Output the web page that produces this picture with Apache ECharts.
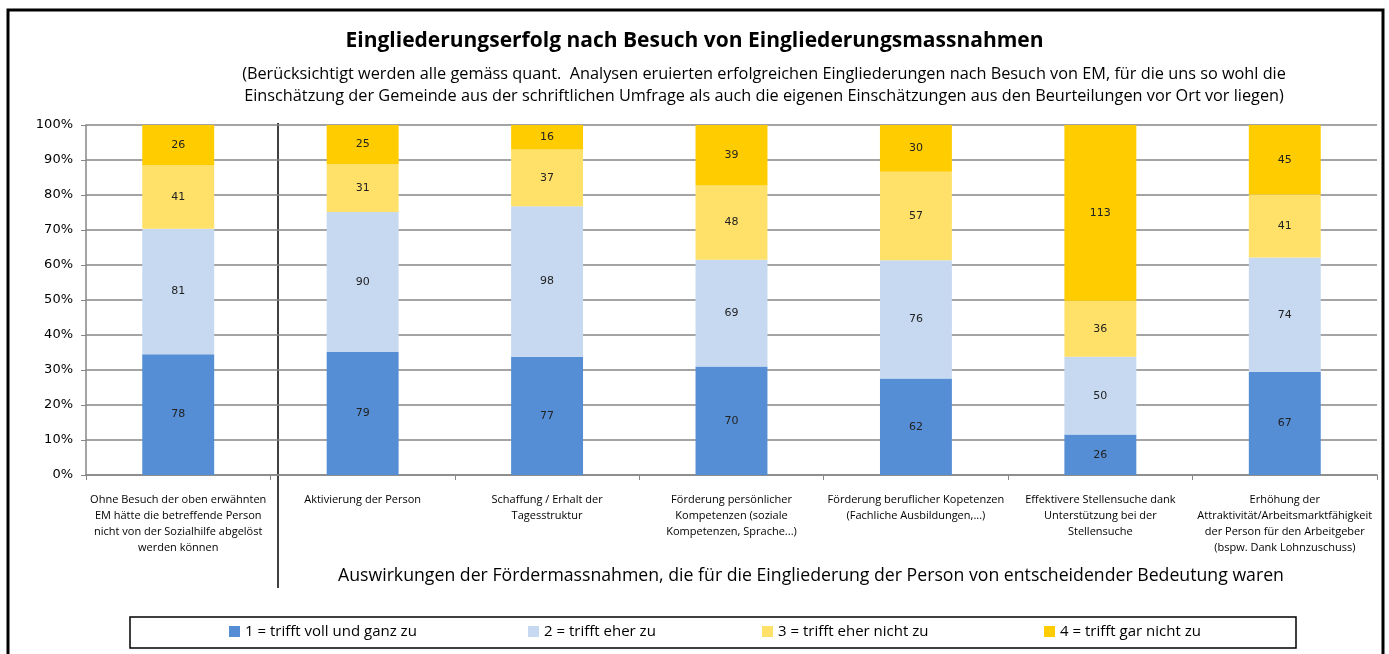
<!DOCTYPE html>
<html>
<head>
<meta charset="utf-8">
<script src="https://cdn.jsdelivr.net/npm/echarts@6/dist/echarts.min.js"></script>
<style>
  html, body { margin: 0; padding: 0; background: #fff; }
  #chart { width: 1389px; height: 654px; }
</style>
</head>
<body>
<div id="chart"></div>
<script>
const categories = [
  'Ohne Besuch der oben erwähnten\nEM hätte die betreffende Person\nnicht von der Sozialhilfe abgelöst\nwerden können',
  'Aktivierung der Person',
  'Schaffung / Erhalt der\nTagesstruktur',
  'Förderung persönlicher\nKompetenzen (soziale\nKompetenzen, Sprache...)',
  'Förderung beruflicher Kopetenzen\n(Fachliche Ausbildungen,...)',
  'Effektivere Stellensuche dank\nUnterstützung bei der\nStellensuche',
  'Erhöhung der\nAttraktivität/Arbeitsmarktfähigkeit\nder Person für den Arbeitgeber\n(bspw. Dank Lohnzuschuss)'
];
const seriesNames = [
  '1 = trifft voll und ganz zu',
  '2 = trifft eher zu',
  '3 = trifft eher nicht zu',
  '4 = trifft gar nicht zu'
];
const voll = [78, 79, 77, 70, 62, 26, 67];
const eher = [81, 90, 98, 69, 76, 50, 74];
const eherNicht = [41, 31, 37, 48, 57, 36, 41];
const garNicht = [26, 25, 16, 39, 30, 113, 45];
const colors = ['#558ED5', '#C6D9F1', '#FFE169', '#FFCC00'];

const FONT = '"Open Sans", sans-serif';
const counts = [voll, eher, eherNicht, garNicht];
const totals = categories.map((c, i) => counts.reduce((s, arr) => s + arr[i], 0));

const chart = echarts.init(document.getElementById('chart'));

const series = counts.map((arr, k) => ({
  name: seriesNames[k],
  type: 'bar',
  stack: 'total',
  barWidth: '39%',
  itemStyle: { color: colors[k] },
  label: {
    show: true,
    position: 'inside',
    color: '#222',
    fontSize: 11,
    fontFamily: 'Verdana, "DejaVu Sans", sans-serif',
    formatter: (p) => arr[p.dataIndex]
  },
  data: arr.map((v, i) => v / totals[i] * 100)
}));

// legend items are spread unevenly inside the box, so one legend per entry
const legendLefts = [229, 528, 762, 1044];
const legends = seriesNames.map((n, k) => ({
  data: [n],
  left: legendLefts[k],
  top: 624,
  padding: 0,
  itemWidth: 11,
  itemHeight: 11,
  icon: 'rect',
  itemGap: 4,
  textStyle: { fontSize: 15, fontFamily: FONT, color: '#000' },
  selectedMode: false
}));

chart.setOption({
  animation: false,
  backgroundColor: '#fff',
  title: {
    text: 'Eingliederungserfolg nach Besuch von Eingliederungsmassnahmen',
    left: 'center',
    top: 26,
    textStyle: { fontSize: 21, fontWeight: 'bold', fontFamily: FONT, color: '#000' }
  },
  legend: legends,
  grid: { left: 86, right: 12, top: 125, bottom: 179 },
  xAxis: {
    type: 'category',
    data: categories,
    axisLine: { lineStyle: { color: '#868686', width: 1.5 } },
    axisTick: { show: true, length: 5, lineStyle: { color: '#868686' } },
    axisLabel: {
      interval: 0,
      margin: 17,
      lineHeight: 16,
      fontSize: 11,
      fontFamily: FONT,
      color: '#000'
    }
  },
  yAxis: {
    type: 'value',
    min: 0,
    max: 100,
    interval: 10,
    axisLine: { show: true, lineStyle: { color: '#868686', width: 1.5 } },
    axisTick: { show: true, length: 5, lineStyle: { color: '#868686' } },
    splitLine: { lineStyle: { color: '#868686', width: 1.5 } },
    axisLabel: {
      formatter: '{value}%',
      fontSize: 13,
      margin: 13,
      fontFamily: 'Verdana, "DejaVu Sans", sans-serif',
      color: '#000'
    }
  },
  series: series,
  graphic: [
    {
      type: 'rect',
      shape: { x: 8, y: 10, width: 1375, height: 660 },
      style: { fill: null, stroke: '#000', lineWidth: 3 },
      silent: true
    },
    {
      type: 'line',
      shape: { x1: 278, y1: 123, x2: 278, y2: 588 },
      style: { stroke: '#000', lineWidth: 1.5 },
      silent: true
    },
    {
      type: 'rect',
      shape: { x: 130, y: 617, width: 1166, height: 31 },
      style: { fill: null, stroke: '#000', lineWidth: 1.5 },
      silent: true,
      z: 0
    },
    {
      type: 'text',
      x: 764,
      y: 63,
      style: {
        text: '(Berücksichtigt werden alle gemäss quant.  Analysen eruierten erfolgreichen Eingliederungen nach Besuch von EM, für die uns so wohl die\nEinschätzung der Gemeinde aus der schriftlichen Umfrage als auch die eigenen Einschätzungen aus den Beurteilungen vor Ort vor liegen)',
        align: 'center',
        verticalAlign: 'top',
        fontSize: 16.3,
        lineHeight: 22,
        fontFamily: FONT,
        fill: '#000'
      }
    },
    {
      type: 'text',
      left: 338,
      top: 567,
      style: {
        text: 'Auswirkungen der Fördermassnahmen, die für die Eingliederung der Person von entscheidender Bedeutung waren',
        fontSize: 17.7,
        fontFamily: FONT,
        fill: '#000'
      }
    }
  ]
});
</script>
</body>
</html>
